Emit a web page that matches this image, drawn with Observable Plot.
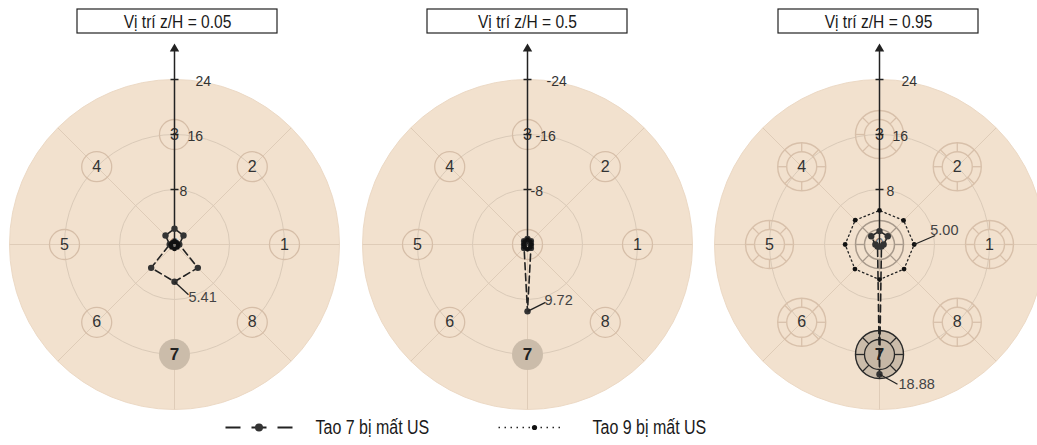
<!DOCTYPE html>
<html><head><meta charset="utf-8">
<script src="https://cdn.jsdelivr.net/npm/d3@7"></script>
<script src="https://cdn.jsdelivr.net/npm/@observablehq/plot@0.6"></script>
<style>body{margin:0;background:#fff;overflow:hidden}</style>
</head><body><div id="chart"></div>
<script>
// ---------- data ----------
const panelTitles = ["Vị trí z/H = 0.05", "Vị trí z/H = 0.5", "Vị trí z/H = 0.95"];
const directions = [0, 45, 90, 135, 180, 225, 270, 315]; // directions of piles 1..8
const pileLabels = ["1", "2", "3", "4", "5", "6", "7", "8"];
const centerPileLabel = "9";
const pileRing = 16;
const gridRings = [8, 16, 24];
const tickValues = [8, 16, 24];
const tickLabels = [["8", "16", "24"], ["-8", "-16", "-24"], ["8", "16", "24"]];
const tao7 = [
  [0.7, 1.85, 2.3, 1.85, 0.7, 4.8, 5.41, 4.8],
  [0.5, 0.7, 0.8, 0.7, 0.5, 0.7, 9.72, 0.7],
  [0.6, 1.7, 1.95, 1.7, 0.6, 0.4, 18.88, 0.4]
];
const tao9 = [
  [0.55, 0.45, 0.5, 0.45, 0.55, 0.6, 0.65, 0.6],
  [0.5, 0.6, 0.7, 0.6, 0.5, 0.6, 0.7, 0.6],
  [5.05, 4.95, 4.95, 5.0, 5.0, 5.05, 5.1, 5.05]
];
const annotations = [
  {panel: 0, series: "tao7", dir: 6, text: "5.41"},
  {panel: 1, series: "tao7", dir: 6, text: "9.72"},
  {panel: 2, series: "tao9", dir: 0, text: "5.00"},
  {panel: 2, series: "tao7", dir: 6, text: "18.88"}
];
const legendLabels = ["Tao 7 bị mất US", "Tao 9 bị mất US"];

// ---------- layout ----------
const W = 1037, H = 445, K = 6.875, CY = 244;
const CX = [174, 527, 879];
const TC = [177, 527, 878];
const FONT = '"Liberation Sans", Arial, sans-serif';
const X = px => px / K, Y = py => (CY - py) / K;
const rad = d => d * Math.PI / 180;
const px = (p, r, d) => CX[p] / K + r * Math.cos(rad(d));
const py = (p, r, d) => r * Math.sin(rad(d));
const P = [0, 1, 2];
const tickOffsets = [[5, 13, 21], [3, 8, 19], [7, 13, 22]];
const annOffsets = [
  {lx: 14, ly: 13, tx: 14, ty: 15.5},
  {lx: 18, ly: -9, tx: 17, ty: -11},
  {lx: 21, ly: -9, tx: 16, ty: -14},
  {lx: 18, ly: 10, tx: 19, ty: 10}
];

const piles = P.flatMap(p => directions.map((d, i) => ({p, d, label: pileLabels[i], x: px(p, pileRing, d), y: py(p, pileRing, d)})));
const centers = P.map(p => ({p, label: centerPileLabel, x: CX[p] / K, y: 0}));
const series = {tao7, tao9};
const rowsOf = vals => P.flatMap(p => directions.map((d, i) => ({p, v: vals[p][i], x: px(p, vals[p][i], d), y: py(p, vals[p][i], d)})));
const t7 = rowsOf(tao7), t9 = rowsOf(tao9);

const fancy = piles.filter(o => o.p === 2).concat(centers.filter(o => o.p === 2));
const spokes = fancy.flatMap(o => directions.map(d => ({...o, sd: d})));
const r1 = 15, r2 = 24;

const ann = annotations.map((a, i) => {
  const vals = series[a.series][a.panel];
  const d = directions[a.dir];
  const x0 = px(a.panel, vals[a.dir], d), y0 = py(a.panel, vals[a.dir], d);
  const o = annOffsets[i];
  return {text: a.text, x0, y0, x1: x0 + o.lx / K, y1: y0 - o.ly / K, tx: x0 + o.tx / K, ty: y0 - o.ty / K};
});

const ticks = P.flatMap(p => tickValues.map((v, i) => ({p, v, label: tickLabels[p][i], off: tickOffsets[p][i]})));

const marks = [
  Plot.dot(P, {x: p => CX[p] / K, y: () => 0, r: 24 * K, fill: "#f2e1ce", stroke: "#ecd9c5", strokeWidth: 1}),
  Plot.link(P.flatMap(p => directions.map(d => ({p, d}))), {
    x1: o => CX[o.p] / K, y1: () => 0, x2: o => px(o.p, 24, o.d), y2: o => py(o.p, 24, o.d),
    stroke: "#dfccb8", strokeWidth: 1
  }),
  ...gridRings.slice(0, 2).map(g => Plot.dot(P, {x: p => CX[p] / K, y: () => 0, r: g * K, stroke: "#dacab8", fill: "none", strokeWidth: 1})),
  Plot.dot(piles.filter(o => o.p < 2 && o.label !== "7"), {x: "x", y: "y", r: 15, stroke: "#d6bea8", strokeWidth: 1.3, fill: "none"}),
  Plot.dot(centers.filter(o => o.p === 1), {x: "x", y: "y", r: 15, stroke: "#d6bea8", strokeWidth: 1.3, fill: "none"}),
  Plot.dot(piles.filter(o => o.p < 2 && o.label === "7"), {x: "x", y: "y", r: 15.5, fill: "#cbbcaa"}),
  Plot.dot(fancy.filter(o => o.label === "7"), {x: "x", y: "y", r: r2, fill: "#cbbcaa", stroke: "#2a2a2a", strokeWidth: 1.4}),
  Plot.dot(fancy.filter(o => o.label === "7"), {x: "x", y: "y", r: r1, fill: "#c6b7a5", stroke: "#2a2a2a", strokeWidth: 1.3}),
  Plot.dot(fancy.filter(o => o.label !== "7" && o.label !== "9"), {x: "x", y: "y", r: r2, fill: "none", stroke: "#d8c0aa", strokeWidth: 1.4}),
  Plot.dot(fancy.filter(o => o.label !== "7" && o.label !== "9"), {x: "x", y: "y", r: r1, fill: "none", stroke: "#d8c0aa", strokeWidth: 1.4}),
  Plot.dot(fancy.filter(o => o.label === "9"), {x: "x", y: "y", r: r2, fill: "none", stroke: "#a89a8c", strokeWidth: 1.5}),
  Plot.dot(fancy.filter(o => o.label === "9"), {x: "x", y: "y", r: r1, fill: "none", stroke: "#a89a8c", strokeWidth: 1.5}),
  Plot.link(spokes, {
    x1: o => o.x + r1 / K * Math.cos(rad(o.sd)), y1: o => o.y + r1 / K * Math.sin(rad(o.sd)),
    x2: o => o.x + r2 / K * Math.cos(rad(o.sd)), y2: o => o.y + r2 / K * Math.sin(rad(o.sd)),
    stroke: o => o.label === "7" ? "#2a2a2a" : (o.label === "9" ? "#a89a8c" : "#d8c0aa"), strokeWidth: 1.3
  }),
  Plot.text(piles.filter(o => o.label !== "7"), {x: "x", y: "y", text: "label", fontSize: 16, fill: "#333"}),
  Plot.text(piles.filter(o => o.label === "7"), {x: "x", y: "y", text: "label", fontSize: 17, fontWeight: "bold", fill: "#222"}),
  Plot.text(centers, {x: "x", y: "y", text: "label", fontSize: 16, fill: "#777"}),
  Plot.link(P, {x1: p => CX[p] / K, y1: () => 0, x2: p => CX[p] / K, y2: () => Y(48), stroke: "#222", strokeWidth: 1.5}),
  Plot.dot(P, {x: p => CX[p] / K, y: () => Y(48.4), symbol: "triangle", r: 3.5, fill: "#222"}),
  Plot.link(ticks, {x1: o => CX[o.p] / K - 0.58, x2: o => CX[o.p] / K + 0.58, y1: "v", y2: "v", stroke: "#222", strokeWidth: 1.5}),
  Plot.text(ticks, {x: o => CX[o.p] / K + o.off / K, y: o => o.v - 0.25, text: "label", textAnchor: "start", fontSize: 14, fill: "#333"}),
  Plot.line(t7, {x: "x", y: "y", z: "p", curve: "linear-closed", stroke: "#222", strokeWidth: 1.6, strokeDasharray: "7,4"}),
  Plot.dot(t7, {x: "x", y: "y", r: 3.2, fill: "#333"}),
  Plot.line(t9, {x: "x", y: "y", z: "p", curve: "linear-closed", stroke: "#222", strokeWidth: 1.3, strokeDasharray: "1.5,3"}),
  Plot.dot(t9, {x: "x", y: "y", r: 2.4, fill: "#111"}),
  Plot.link(ann, {x1: "x0", y1: "y0", x2: "x1", y2: "y1", stroke: "#222", strokeWidth: 1.3}),
  Plot.text(ann, {x: "tx", y: "ty", text: "text", textAnchor: "start", fontSize: 14.5, fill: "#444"}),
  Plot.rect(P, {x1: p => X(TC[p] - 100), x2: p => X(TC[p] + 100), y1: () => Y(33), y2: () => Y(9), fill: "white", stroke: "#222", strokeWidth: 1.2}),
  Plot.text(P, {x: p => X(TC[p]), y: () => Y(21), text: p => panelTitles[p], fontSize: 19, fill: "#1a1a1a"}),
  Plot.link([0], {x1: () => X(225), x2: () => X(292), y1: () => Y(427), y2: () => Y(427), stroke: "#222", strokeWidth: 2, strokeDasharray: "15,11"}),
  Plot.dot([0], {x: () => X(258.5), y: () => Y(427), r: 4, fill: "#333"}),
  Plot.link([0], {x1: () => X(498), x2: () => X(564), y1: () => Y(427), y2: () => Y(427), stroke: "#222", strokeWidth: 1.3, strokeDasharray: "1.5,4.5"}),
  Plot.dot([0], {x: () => X(534), y: () => Y(427), r: 2.6, fill: "#111"}),
  Plot.text([0, 1], {x: i => X([315, 592][i]), y: () => Y(427), text: i => legendLabels[i], textAnchor: "start", fontSize: 19.5, fill: "#1a1a1a"})
];

const chart = Plot.plot({
  width: W, height: H, margin: 0,
  x: {domain: [0, W / K], axis: null},
  y: {domain: [(CY - H) / K, CY / K], axis: null},
  style: {fontFamily: FONT, background: "white", overflow: "hidden"},
  marks
});
document.getElementById("chart").appendChild(chart);

// condensed look for titles and legend labels (scale about each text's anchor point)
d3.select(chart).selectAll("text").each(function () {
  const t = this.textContent;
  if (panelTitles.includes(t) || legendLabels.includes(t)) {
    const tr = this.getAttribute("transform") || "";
    this.setAttribute("transform", (tr + " scale(0.82,1)").trim());
  }
});
</script>
</body></html>
